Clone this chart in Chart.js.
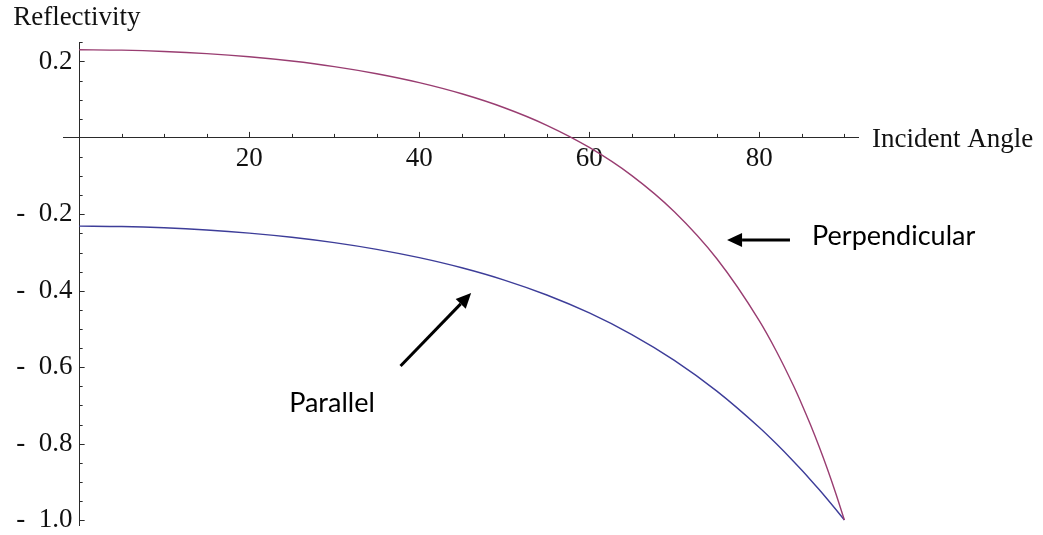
<!DOCTYPE html>
<html>
<head>
<meta charset="utf-8">
<script src="https://cdn.jsdelivr.net/npm/chart.js@4.4.0/dist/chart.umd.min.js"></script>
<style>
  html, body { margin: 0; padding: 0; background: #fff; }
  #wrap { width: 1043px; height: 535px; }
</style>
</head>
<body>
<div id="wrap"><canvas id="fresnel"></canvas></div>
<script>
// incident angle (deg) and the two reflectivity curves
const angles = [0, 5, 10, 15, 20, 25, 30, 35, 40, 45, 50, 55, 60, 65, 70, 75, 80, 82, 84, 85, 86, 87, 88, 89, 90];
const perpendicular = [0.2308, 0.2297, 0.2263, 0.2206, 0.2123, 0.2011, 0.1866, 0.1680, 0.1447, 0.1155, 0.0790, 0.0331, -0.0249,
    -0.0986, -0.1932, -0.3163, -0.4787, -0.5582, -0.6481, -0.6975, -0.7502, -0.8064, -0.8665, -0.9310, -1.0];
const parallel = [-0.2308, -0.2319, -0.2352, -0.2409, -0.2491, -0.2600, -0.2740, -0.2916, -0.3134, -0.3399, -0.3721, -0.4111, -0.4581,
    -0.5146, -0.5821, -0.6626, -0.7579, -0.8006, -0.8460, -0.8698, -0.8944, -0.9196, -0.9457, -0.9725, -1.0];

const xTickValues = [20, 40, 60, 80];
const xTickLabels = ['20', '40', '60', '80'];
const yTickValues = [0.2, -0.2, -0.4, -0.6, -0.8, -1.0];
const yTickLabels = ['0.2', '-  0.2', '-  0.4', '-  0.6', '-  0.8', '-  1.0'];

// annotations, in data units
const notes = [
    { text: 'Perpendicular', x: 86.2, y: -0.280 },
    { text: 'Parallel', x: 24.7, y: -0.717 }
];
const arrows = [
    { from: [83.6, -0.267], to: [76.2, -0.267] },
    { from: [37.8, -0.597], to: [46.1, -0.406] }
];

const serif = "'Liberation Serif', 'Times New Roman', serif";
const axisColor = '#2a2a2a';

function toPoints(ys) {
    return angles.map((a, i) => ({ x: a, y: ys[i] }));
}

function clearPadding(scale) {
    scale.paddingLeft = 0;
    scale.paddingRight = 0;
    scale.paddingTop = 0;
    scale.paddingBottom = 0;
}

function drawArrow(ctx, x1, y1, x2, y2) {
    const ang = Math.atan2(y2 - y1, x2 - x1);
    const len = 15, half = 7;
    const bx = x2 - len * Math.cos(ang), by = y2 - len * Math.sin(ang);
    ctx.beginPath();
    ctx.moveTo(x1, y1);
    ctx.lineTo(bx, by);
    ctx.lineWidth = 3;
    ctx.stroke();
    ctx.beginPath();
    ctx.moveTo(x2, y2);
    ctx.lineTo(bx + half * Math.sin(ang), by - half * Math.cos(ang));
    ctx.lineTo(bx - half * Math.sin(ang), by + half * Math.cos(ang));
    ctx.closePath();
    ctx.fill();
}

const mathAxes = {
    id: 'mathAxes',
    afterDraw(chart) {
        const ctx = chart.ctx;
        const xs = chart.scales.x, ys = chart.scales.y;
        const x0 = xs.getPixelForValue(0), y0 = ys.getPixelForValue(0);
        const area = chart.chartArea;
        ctx.save();
        ctx.strokeStyle = axisColor;
        ctx.lineWidth = 1;
        // x ticks, pointing up
        for (let v = 5; v <= 90; v += 5) {
            const px = Math.round(xs.getPixelForValue(v)) + 0.5;
            const l = v % 20 === 0 ? 6 : 4;
            ctx.beginPath();
            ctx.moveTo(px, y0);
            ctx.lineTo(px, y0 - l);
            ctx.stroke();
        }
        // y ticks, pointing right
        for (let k = -20; k <= 5; k++) {
            if (k === 0) continue;
            const py = Math.round(ys.getPixelForValue(k * 0.05)) + 0.5;
            const l = k % 4 === 0 ? 5.5 : 3.5;
            ctx.beginPath();
            ctx.moveTo(x0, py);
            ctx.lineTo(x0 + l, py);
            ctx.stroke();
        }
        // axis titles
        ctx.fillStyle = '#111';
        ctx.font = '27px ' + serif;
        ctx.textBaseline = 'alphabetic';
        ctx.textAlign = 'left';
        ctx.fillText('Reflectivity', x0 - 66, area.top - 17);
        ctx.fillText('Incident Angle', area.right + 14, y0 + 9);
        // notes and arrows
        ctx.fillStyle = '#000';
        ctx.strokeStyle = '#000';
        ctx.font = "27px Lato, 'Noto Sans', sans-serif";
        notes.forEach(n => {
            ctx.fillText(n.text, xs.getPixelForValue(n.x), ys.getPixelForValue(n.y));
        });
        arrows.forEach(a => {
            drawArrow(ctx,
                xs.getPixelForValue(a.from[0]), ys.getPixelForValue(a.from[1]),
                xs.getPixelForValue(a.to[0]), ys.getPixelForValue(a.to[1]));
        });
        ctx.restore();
    }
};

const ctx = document.getElementById('fresnel').getContext('2d');
const chart = new Chart(ctx, {
    type: 'line',
    data: {
        datasets: [
            {
                label: 'Perpendicular',
                data: toPoints(perpendicular),
                borderColor: '#993D71',
                borderWidth: 1.4,
                cubicInterpolationMode: 'monotone'
            },
            {
                label: 'Parallel',
                data: toPoints(parallel),
                borderColor: '#3D3D99',
                borderWidth: 1.4,
                cubicInterpolationMode: 'monotone'
            }
        ]
    },
    options: {
        responsive: true,
        maintainAspectRatio: false,
        animation: false,
        layout: {
            padding: { left: 63, right: 185, top: 42, bottom: 10 }
        },
        elements: {
            point: { radius: 0 }
        },
        scales: {
            x: {
                type: 'linear',
                position: { y: 0 },
                min: -1.9,
                max: 91.6,
                afterBuildTicks: s => { s.ticks = xTickValues.map(v => ({ value: v })); },
                afterFit: clearPadding,
                grid: { drawOnChartArea: false, drawTicks: false },
                border: { color: axisColor, width: 1 },
                ticks: {
                    autoSkip: false,
                    maxRotation: 0,
                    padding: 5,
                    color: '#111',
                    font: { family: serif, size: 27 },
                    callback: (v, i) => xTickLabels[i]
                }
            },
            y: {
                type: 'linear',
                position: { x: 0 },
                min: -1.013,
                max: 0.251,
                afterBuildTicks: s => { s.ticks = yTickValues.map(v => ({ value: v })); },
                afterFit: clearPadding,
                grid: { drawOnChartArea: false, drawTicks: false },
                border: { color: axisColor, width: 1 },
                ticks: {
                    autoSkip: false,
                    color: '#111',
                    font: { family: serif, size: 27 },
                    callback: (v, i) => yTickLabels[i] + ' '
                }
            }
        },
        plugins: {
            legend: { display: false },
            tooltip: { enabled: false }
        }
    },
    plugins: [mathAxes]
});
</script>
</body>
</html>
